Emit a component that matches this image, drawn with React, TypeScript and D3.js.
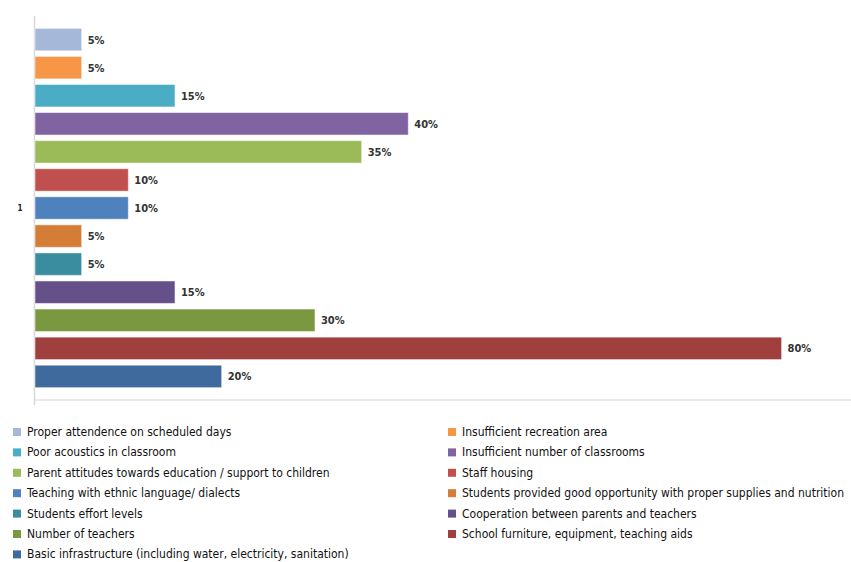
import React from "react";
import * as d3 from "d3";

const categories = [
  "Proper attendence on scheduled days",
  "Insufficient recreation area",
  "Poor acoustics in classroom",
  "Insufficient number of classrooms",
  "Parent attitudes towards education / support to children",
  "Staff housing",
  "Teaching with ethnic language/ dialects",
  "Students provided good opportunity with proper supplies and nutrition",
  "Students effort levels",
  "Cooperation between parents and teachers",
  "Number of teachers",
  "School furniture, equipment, teaching aids",
  "Basic infrastructure (including water, electricity, sanitation)",
];
const values = [0.05, 0.05, 0.15, 0.4, 0.35, 0.1, 0.1, 0.05, 0.05, 0.15, 0.3, 0.8, 0.2];
const colors = [
  "#a6b8da", "#f79646", "#4bacc6", "#8064a2", "#9bbb59", "#c0504d", "#4f81bd",
  "#d37d37", "#3a8d9e", "#66508a", "#7a983f", "#a0403e", "#3e6a9e",
];
const groupLabel = "1";

const W = 851, H = 562;
const FONT = "'Liberation Sans Narrow', 'DejaVu Sans Condensed', sans-serif";

export default function App() {
  const x = d3.scaleLinear().domain([0, 0.8]).range([35, 781.6]);
  const y = d3.scaleBand<string>().domain(categories).range([16, 400]).paddingInner(0.2).paddingOuter(0.44);
  const fmt = d3.format(".0%");
  return (
    <svg width={W} height={H} style={{ position: "absolute", left: 0, top: 0, background: "#fff" }}>
      <line x1={35} x2={851} y1={400} y2={400} stroke="#e3e3e3" strokeWidth={1.5} />
      <line x1={34.5} x2={34.5} y1={16} y2={405} stroke="#d9d9d9" strokeWidth={1.5} />
      <text x={20} y={211} fontFamily={FONT} fontSize={8} fontWeight="bold" textAnchor="middle" fill="#222">{groupLabel}</text>
      {categories.map((c, i) => (
        <g key={c}>
          <rect x={x(0)} y={y(c)} width={x(values[i]) - x(0)} height={y.bandwidth()} fill={colors[i]} stroke="#ffffff" strokeOpacity={0.5} strokeWidth={1} />
          <text x={x(values[i]) + 6} y={(y(c) as number) + y.bandwidth() / 2 + 4} fontFamily={FONT} fontSize={11} fontWeight="bold" fill="#333">{fmt(values[i])}</text>
        </g>
      ))}
      {categories.map((c, i) => {
        const col = i % 2;
        const row = Math.floor(i / 2);
        const lx = col === 0 ? 13 : 448;
        const ly = 432 + row * 20.4;
        return (
          <g key={"l" + c}>
            <rect x={lx} y={ly - 4} width={8} height={8} fill={colors[i]} />
            <text x={lx + 14} y={ly + 4} fontFamily={FONT} fontSize={12} fill="#111">{c}</text>
          </g>
        );
      })}
    </svg>
  );
}
